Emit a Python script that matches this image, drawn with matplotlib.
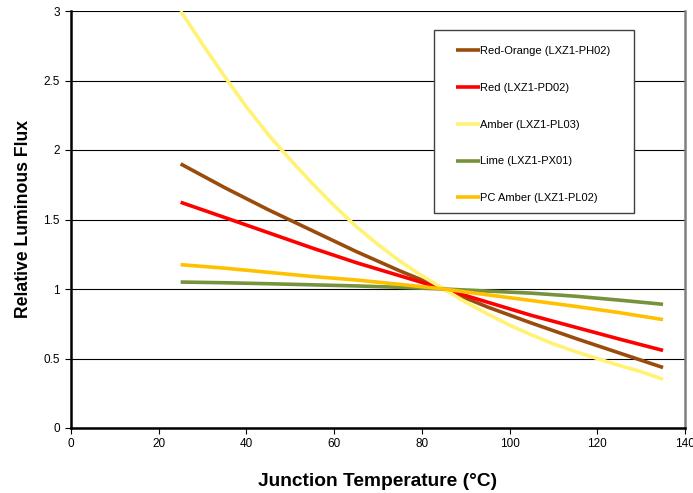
import matplotlib
matplotlib.use("Agg")
import matplotlib.pyplot as plt
from matplotlib.patches import Rectangle

plt.rcParams['font.family'] = ['Liberation Sans', 'DejaVu Sans']

temps = [25, 35, 45, 55, 65, 75, 85, 95, 105, 115, 125, 135]
red_orange = [1.90, 1.73, 1.57, 1.42, 1.27, 1.13, 1.00, 0.87, 0.755, 0.645, 0.54, 0.435]
red = [1.624, 1.515, 1.405, 1.295, 1.19, 1.095, 1.00, 0.905, 0.81, 0.725, 0.64, 0.558]
lime = [1.05, 1.045, 1.038, 1.03, 1.022, 1.012, 1.00, 0.985, 0.97, 0.948, 0.92, 0.89]
pc_amber = [1.175, 1.15, 1.12, 1.09, 1.065, 1.033, 1.00, 0.958, 0.917, 0.875, 0.83, 0.78]

amber_temps = [25, 30, 35, 40, 45, 50, 55, 60, 65, 70, 75, 80, 85,
               90, 95, 100, 105, 110, 115, 120, 125, 130, 135]
amber = [3.0, 2.76, 2.53, 2.31, 2.11, 1.93, 1.76, 1.60, 1.45, 1.32, 1.20, 1.095, 1.00,
         0.905, 0.82, 0.74, 0.67, 0.605, 0.55, 0.50, 0.45, 0.405, 0.35]

labels = ["Red-Orange (LXZ1-PH02)", "Red (LXZ1-PD02)", "Amber (LXZ1-PL03)",
          "Lime (LXZ1-PX01)", "PC Amber (LXZ1-PL02)"]
colors = ["#994C0C", "#FF0000", "#FFF275", "#76923C", "#FFC000"]
series_x = [temps, temps, amber_temps, temps, temps]
series_y = [red_orange, red, amber, lime, pc_amber]

xticks = [0, 20, 40, 60, 80, 100, 120, 140]
yticks = [0, 0.5, 1, 1.5, 2, 2.5, 3]
ytick_labels = ["0", "0.5", "1", "1.5", "2", "2.5", "3"]

fig = plt.figure(figsize=(6.93, 4.93), dpi=100)
ax = fig.add_axes([71/693, 1 - 428/493, 614/693, 417/493])

for xs, vals, c, lab in zip(series_x, series_y, colors, labels):
    ax.plot(xs, vals, color=c, lw=2.6, label=lab, solid_capstyle='butt',
            solid_joinstyle='round', zorder=3)

ax.set_xlim(0, 140)
ax.set_ylim(0, 3)
ax.set_xticks(xticks)
ax.set_yticks(yticks)
ax.set_yticklabels(ytick_labels)
ax.yaxis.grid(True, color='#000000', lw=0.8)
ax.set_axisbelow(True)

ax.tick_params(axis='both', direction='out', length=4, width=0.8, labelsize=8.5, colors='#000000')
ax.tick_params(axis='y', pad=4)
ax.spines['top'].set_visible(False)
ax.spines['right'].set_color('#808080')
ax.spines['right'].set_linewidth(1.8)
ax.spines['left'].set_linewidth(1.8)
ax.spines['bottom'].set_linewidth(1.8)

ax.set_xlabel("Junction Temperature (°C)", fontsize=13.8, fontweight='bold', labelpad=16)
ax.set_ylabel("Relative Luminous Flux", fontsize=12.7, fontweight='bold', labelpad=8)

# legend frame
ax.add_patch(Rectangle((0.591, 0.516), 0.326, 0.438, transform=ax.transAxes,
                       facecolor='white', edgecolor='#404040', lw=1.0, zorder=4))
leg = ax.legend(loc='upper left', bbox_to_anchor=(0.591 + 6.5/614, 0.954),
                borderaxespad=0, fontsize=8, handlelength=2.16, handletextpad=0.05,
                labelspacing=2.42, borderpad=1.4, frameon=False)
leg.set_zorder(5)

fig.savefig("out.png", dpi=100)
